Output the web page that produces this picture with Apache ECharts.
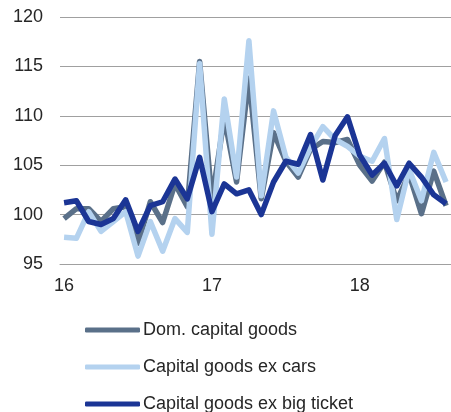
<!DOCTYPE html>
<html><head><meta charset="utf-8">
<script src="https://cdn.jsdelivr.net/npm/echarts@6/dist/echarts.min.js"></script>
<style>html,body{margin:0;padding:0;background:#fff}#c{width:451px;height:412px}</style>
</head><body><div id="c"></div>
<script>
// Monthly, Jan 2016 .. Aug 2018 (index 0..31)
var tickLabels = {0:'16', 12:'17', 24:'18'};
var domCapital = [99.6,100.6,100.6,99.3,100.6,100.8,97.1,101.3,99.2,103.1,100.8,115.5,101.5,109.8,103.3,113.8,101.6,108.3,105.4,103.8,106.6,107.4,107.3,107.6,105.0,103.4,105.3,101.4,104.1,100.1,104.4,100.9];
var exCars = [97.7,97.6,100.3,98.3,99.3,100.3,95.8,99.3,96.3,99.6,98.2,115.3,98.0,111.7,103.8,117.6,101.9,110.5,105.8,104.2,106.8,108.9,107.6,106.9,105.9,105.4,107.7,99.5,104.6,101.4,106.3,103.3];
var exBigTicket = [101.2,101.4,99.3,99.0,99.6,101.5,98.3,100.9,101.3,103.6,101.6,105.8,100.3,103.1,102.1,102.5,100.0,103.3,105.4,105.1,108.1,103.5,108.0,109.9,106.0,104.0,105.2,102.9,105.2,103.8,102.0,101.1];
var names = ['Dom. capital goods','Capital goods ex cars','Capital goods ex big ticket'];
var colors = ['#5a7089','#b4d2ef','#1b3595'];

function pts(arr){ return arr.map(function(v,i){ return [i,v]; }); }
var all = [domCapital, exCars, exBigTicket];
var chart = echarts.init(document.getElementById('c'), null, {renderer:'canvas'});
chart.setOption({
  animation:false,
  textStyle:{fontFamily:'Liberation Sans, Arial, sans-serif'},
  grid:{left:60,right:0,top:17,bottom:148},
  xAxis:{type:'value',min:-0.33,max:31.4,
    axisLine:{show:true,lineStyle:{color:'#a0a0a0',width:1}},
    axisTick:{show:false},
    splitLine:{show:false},
    axisLabel:{customValues:[0,12,24],formatter:function(v){return tickLabels[Math.round(v)]||'';},
      color:'#262626',fontSize:18,margin:13}
  },
  yAxis:{type:'value',min:95,max:120,interval:5,
    axisLine:{show:false},axisTick:{show:false},
    splitLine:{lineStyle:{color:'#a0a0a0',width:1}},
    axisLabel:{color:'#262626',fontSize:18,margin:17}
  },
  legend:{orient:'vertical',left:85,top:321,height:110,padding:0,itemWidth:55,itemHeight:5,itemGap:19,
    icon:'roundRect',
    textStyle:{color:'#262626',fontSize:18,padding:[0,0,0,-2]},
    data:names},
  series: all.map(function(a,k){
    return {name:names[k],type:'line',data:pts(a),showSymbol:false,symbol:'none',
      lineStyle:{color:colors[k],width:5.5,join:'round'},itemStyle:{color:colors[k]}};
  })
});
</script></body></html>
